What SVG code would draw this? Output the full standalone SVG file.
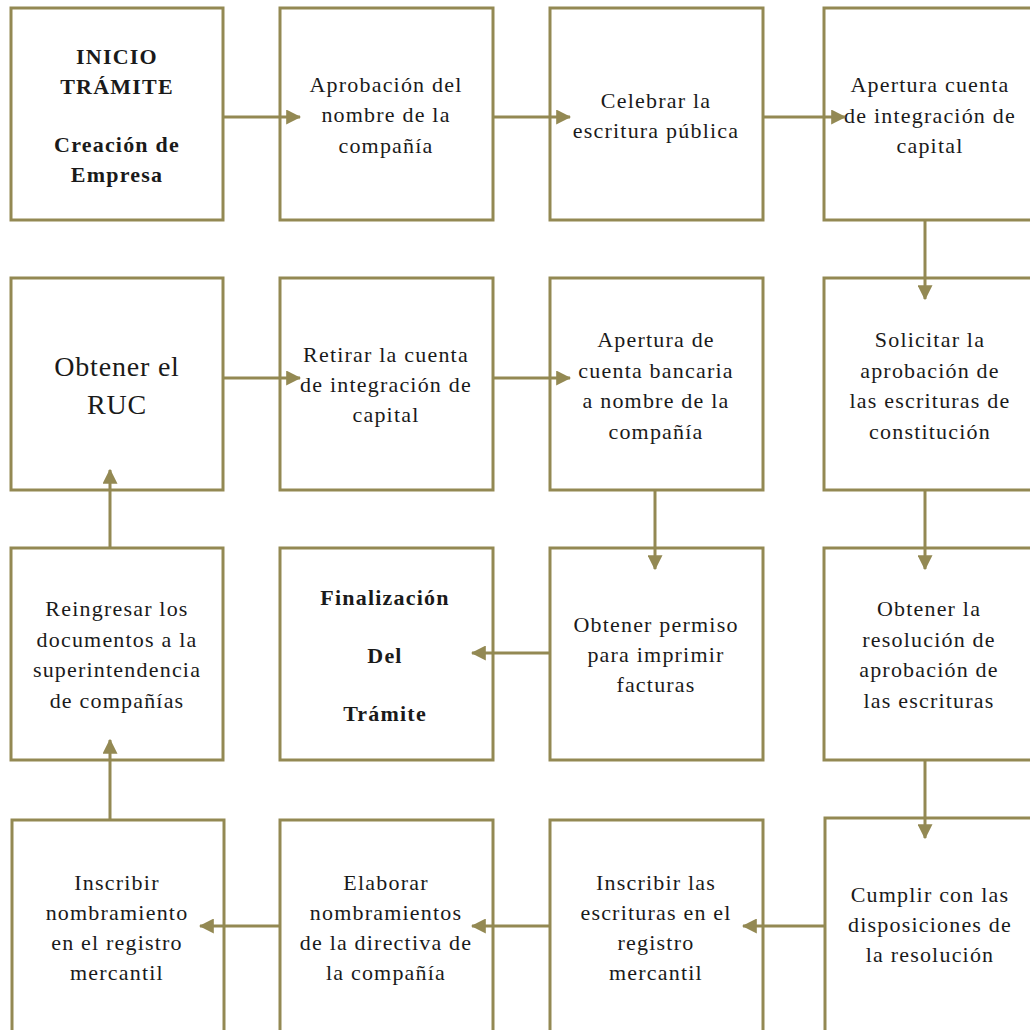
<svg xmlns="http://www.w3.org/2000/svg" width="1030" height="1030" viewBox="0 0 1030 1030">
<style>
.box{fill:#fff;stroke:#938953;stroke-width:3}
.t{font-family:"Liberation Serif","Times New Roman",serif;font-size:22px;letter-spacing:1.2px;fill:#1a1a1a;text-anchor:middle}
.b{font-weight:bold}
.big{font-size:28px;letter-spacing:0.8px}
.c{stroke:#938953;stroke-width:3;fill:none}
</style>
<defs>
<marker id="ah" markerWidth="5" markerHeight="5" refX="4.6" refY="2.5" orient="auto" markerUnits="strokeWidth">
<path d="M0,0 L5,2.5 L0,5 Z" fill="#938953"/>
</marker>
</defs>
<rect width="1030" height="1030" fill="#fff"/>
<g id="n1"><rect class="box" x="11" y="8" width="212" height="212"/>
<text class="t b" x="117" y="64">INICIO</text><text class="t b" x="117" y="94">TRÁMITE</text><text class="t b" x="117" y="152">Creación de</text><text class="t b" x="117" y="182">Empresa</text></g>
<g id="n2"><rect class="box" x="280" y="8" width="213" height="212"/>
<text class="t" x="386" y="92">Aprobación del</text><text class="t" x="386" y="122">nombre de la</text><text class="t" x="386" y="153">compañía</text></g>
<g id="n3"><rect class="box" x="550" y="8" width="213" height="212"/>
<text class="t" x="656" y="108">Celebrar la</text><text class="t" x="656" y="138">escritura pública</text></g>
<g id="n4"><rect class="box" x="824" y="8" width="212" height="212"/>
<text class="t" x="930" y="92">Apertura cuenta</text><text class="t" x="930" y="123">de integración de</text><text class="t" x="930" y="153">capital</text></g>
<g id="n5"><rect class="box" x="11" y="278" width="212" height="212"/>
<text class="t big" x="117" y="376">Obtener el</text><text class="t big" x="117" y="414">RUC</text></g>
<g id="n6"><rect class="box" x="280" y="278" width="213" height="212"/>
<text class="t" x="386" y="362">Retirar la cuenta</text><text class="t" x="386" y="392">de integración de</text><text class="t" x="386" y="422">capital</text></g>
<g id="n7"><rect class="box" x="550" y="278" width="213" height="212"/>
<text class="t" x="656" y="347">Apertura de</text><text class="t" x="656" y="378">cuenta bancaria</text><text class="t" x="656" y="408">a nombre de la</text><text class="t" x="656" y="439">compañía</text></g>
<g id="n8"><rect class="box" x="824" y="278" width="212" height="212"/>
<text class="t" x="930" y="347">Solicitar la</text><text class="t" x="930" y="378">aprobación de</text><text class="t" x="930" y="408">las escrituras de</text><text class="t" x="930" y="439">constitución</text></g>
<g id="n9"><rect class="box" x="11" y="548" width="212" height="212"/>
<text class="t" x="117" y="616">Reingresar los</text><text class="t" x="117" y="647">documentos a la</text><text class="t" x="117" y="677">superintendencia</text><text class="t" x="117" y="708">de compañías</text></g>
<g id="n10"><rect class="box" x="280" y="548" width="213" height="212"/>
<text class="t b" x="385" y="605">Finalización</text><text class="t b" x="385" y="663">Del</text><text class="t b" x="385" y="721">Trámite</text></g>
<g id="n11"><rect class="box" x="550" y="548" width="213" height="212"/>
<text class="t" x="656" y="632">Obtener permiso</text><text class="t" x="656" y="662">para imprimir</text><text class="t" x="656" y="692">facturas</text></g>
<g id="n12"><rect class="box" x="824" y="548" width="212" height="212"/>
<text class="t" x="929" y="616">Obtener la</text><text class="t" x="929" y="647">resolución de</text><text class="t" x="929" y="677">aprobación de</text><text class="t" x="929" y="708">las escrituras</text></g>
<g id="n13"><rect class="box" x="12" y="820" width="212" height="220"/>
<text class="t" x="117" y="890">Inscribir</text><text class="t" x="117" y="920">nombramiento</text><text class="t" x="117" y="950">en el registro</text><text class="t" x="117" y="980">mercantil</text></g>
<g id="n14"><rect class="box" x="280" y="820" width="213" height="220"/>
<text class="t" x="386" y="890">Elaborar</text><text class="t" x="386" y="920">nombramientos</text><text class="t" x="386" y="950">de la directiva de</text><text class="t" x="386" y="980">la compañía</text></g>
<g id="n15"><rect class="box" x="550" y="820" width="213" height="220"/>
<text class="t" x="656" y="890">Inscribir las</text><text class="t" x="656" y="920">escrituras en el</text><text class="t" x="656" y="950">registro</text><text class="t" x="656" y="980">mercantil</text></g>
<g id="n16"><rect class="box" x="825" y="818" width="212" height="222"/>
<text class="t" x="930" y="902">Cumplir con las</text><text class="t" x="930" y="932">disposiciones de</text><text class="t" x="930" y="962">la resolución</text></g>
<g id="connectors">
<line class="c" x1="223" y1="117" x2="300" y2="117" marker-end="url(#ah)"/>
<line class="c" x1="493" y1="117" x2="570" y2="117" marker-end="url(#ah)"/>
<line class="c" x1="763" y1="117" x2="845" y2="117" marker-end="url(#ah)"/>
<line class="c" x1="925" y1="220" x2="925" y2="299" marker-end="url(#ah)"/>
<line class="c" x1="925" y1="490" x2="925" y2="569" marker-end="url(#ah)"/>
<line class="c" x1="925" y1="760" x2="925" y2="838" marker-end="url(#ah)"/>
<line class="c" x1="825" y1="926" x2="743" y2="926" marker-end="url(#ah)"/>
<line class="c" x1="550" y1="926" x2="472" y2="926" marker-end="url(#ah)"/>
<line class="c" x1="280" y1="926" x2="200" y2="926" marker-end="url(#ah)"/>
<line class="c" x1="110" y1="820" x2="110" y2="740" marker-end="url(#ah)"/>
<line class="c" x1="110" y1="548" x2="110" y2="470" marker-end="url(#ah)"/>
<line class="c" x1="223" y1="378" x2="300" y2="378" marker-end="url(#ah)"/>
<line class="c" x1="493" y1="378" x2="570" y2="378" marker-end="url(#ah)"/>
<line class="c" x1="655" y1="490" x2="655" y2="569" marker-end="url(#ah)"/>
<line class="c" x1="550" y1="653" x2="472" y2="653" marker-end="url(#ah)"/>
</g>
</svg>
